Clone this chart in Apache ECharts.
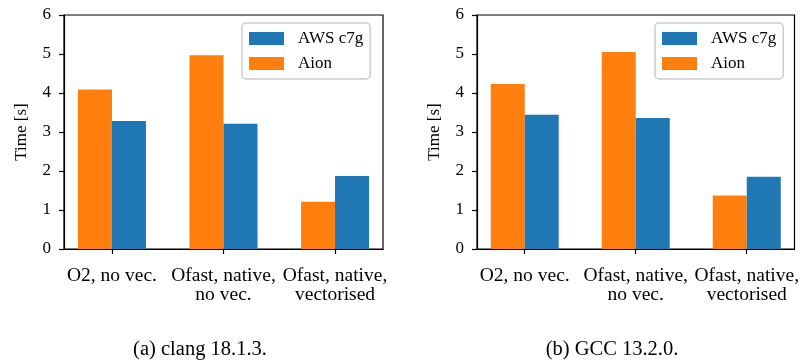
<!DOCTYPE html>
<html>
<head>
<meta charset="utf-8">
<script src="https://cdn.jsdelivr.net/npm/echarts@6/dist/echarts.min.js"></script>
<style>
  html, body { margin: 0; padding: 0; background: #fff; }
  #chart { width: 802px; height: 363px; }
</style>
</head>
<body>
<div id="chart"></div>
<script>
// data
const categories = ["O2, no vec.", "Ofast, native,\nno vec.", "Ofast, native,\nvectorised"];
const clangAion = [4.09, 4.97, 1.21];
const clangAws = [3.28, 3.21, 1.87];
const gccAion = [4.23, 5.05, 1.37];
const gccAws = [3.44, 3.36, 1.85];
const yTicks = [0, 1, 2, 3, 4, 5, 6];
const captions = ["(a) clang 18.1.3.", "(b) GCC 13.2.0."];

const FONT = "Liberation Serif";
const BLUE = "#1f77b4";
const ORANGE = "#ff7f0e";

const chart = echarts.init(document.getElementById("chart"));

// turn [a,b,c] into [[0,a],[1,b],[2,c]] so bars sit on the value x-axis
function pts(arr) {
	return arr.map((v, i) => [i, v]);
}

function xAxisFor(gi) {
	return {
		type: "value",
		gridIndex: gi,
		min: -0.43,
		max: 2.43,
		splitLine: { show: false },
		axisLine: { show: true, onZero: false, lineStyle: { color: "#000", width: 1.2 } },
		axisTick: {
			show: true,
			length: 5,
			customValues: [0, 1, 2],
			lineStyle: { color: "#000", width: 1.2 },
		},
		axisLabel: {
			customValues: [0, 1, 2],
			formatter: (v) => categories[Math.round(v)],
			fontFamily: FONT,
			fontSize: 19.5,
			lineHeight: 19,
			color: "#000",
			margin: 17,
		},
	};
}

function yAxisFor(gi) {
	return {
		type: "value",
		gridIndex: gi,
		min: 0,
		max: yTicks[yTicks.length - 1],
		interval: 1,
		name: "Time [s]",
		nameLocation: "middle",
		nameGap: 34,
		nameTextStyle: { fontFamily: FONT, fontSize: 17, color: "#000" },
		splitLine: { show: false },
		axisLine: { show: true, onZero: false, lineStyle: { color: "#000", width: 1.2 } },
		axisTick: { show: true, length: 5, lineStyle: { color: "#000", width: 1.2 } },
		axisLabel: { fontFamily: FONT, fontSize: 17, color: "#000", margin: 13 },
	};
}

function barSeries(name, data, color, gi) {
	return {
		name: name,
		type: "bar",
		xAxisIndex: gi,
		yAxisIndex: gi,
		data: pts(data),
		barWidth: 34,
		barGap: "0%",
		itemStyle: { color: color },
		emphasis: { disabled: true },
	};
}

function legendFor(left) {
	return {
		data: ["AWS c7g", "Aion"],
		orient: "vertical",
		left: left,
		top: 23,
		itemWidth: 35,
		itemHeight: 13,
		itemGap: 8,
		padding: [7, 7, 7, 7],
		borderColor: "#cccccc",
		borderWidth: 1.5,
		borderRadius: 4,
		backgroundColor: "rgba(255,255,255,0.8)",
		icon: "rect",
		textStyle: { fontFamily: FONT, fontSize: 17, color: "#000", padding: [0, 0, 0, 9] },
		selectedMode: false,
	};
}

let option = {
	animation: false,
	grid: [
		{ left: 64, width: 319, top: 15, height: 234, show: true, borderColor: "#000", borderWidth: 1.2 },
		{ left: 477, width: 319, top: 15, height: 234, show: true, borderColor: "#000", borderWidth: 1.2 },
	],
	xAxis: [xAxisFor(0), xAxisFor(1)],
	yAxis: [yAxisFor(0), yAxisFor(1)],
	legend: [legendFor(242), legendFor(655)],
	series: [
		barSeries("Aion", clangAion, ORANGE, 0),
		barSeries("AWS c7g", clangAws, BLUE, 0),
		barSeries("Aion", gccAion, ORANGE, 1),
		barSeries("AWS c7g", gccAws, BLUE, 1),
	],
	graphic: [
		{
			type: "text",
			x: 200,
			y: 350,
			style: { text: captions[0], font: "20.5px " + FONT, fill: "#000", textAlign: "center", textVerticalAlign: "middle" },
		},
		{
			type: "text",
			x: 612,
			y: 350,
			style: { text: captions[1], font: "20.5px " + FONT, fill: "#000", textAlign: "center", textVerticalAlign: "middle" },
		},
	],
};
chart.setOption(option);
</script>
</body>
</html>
